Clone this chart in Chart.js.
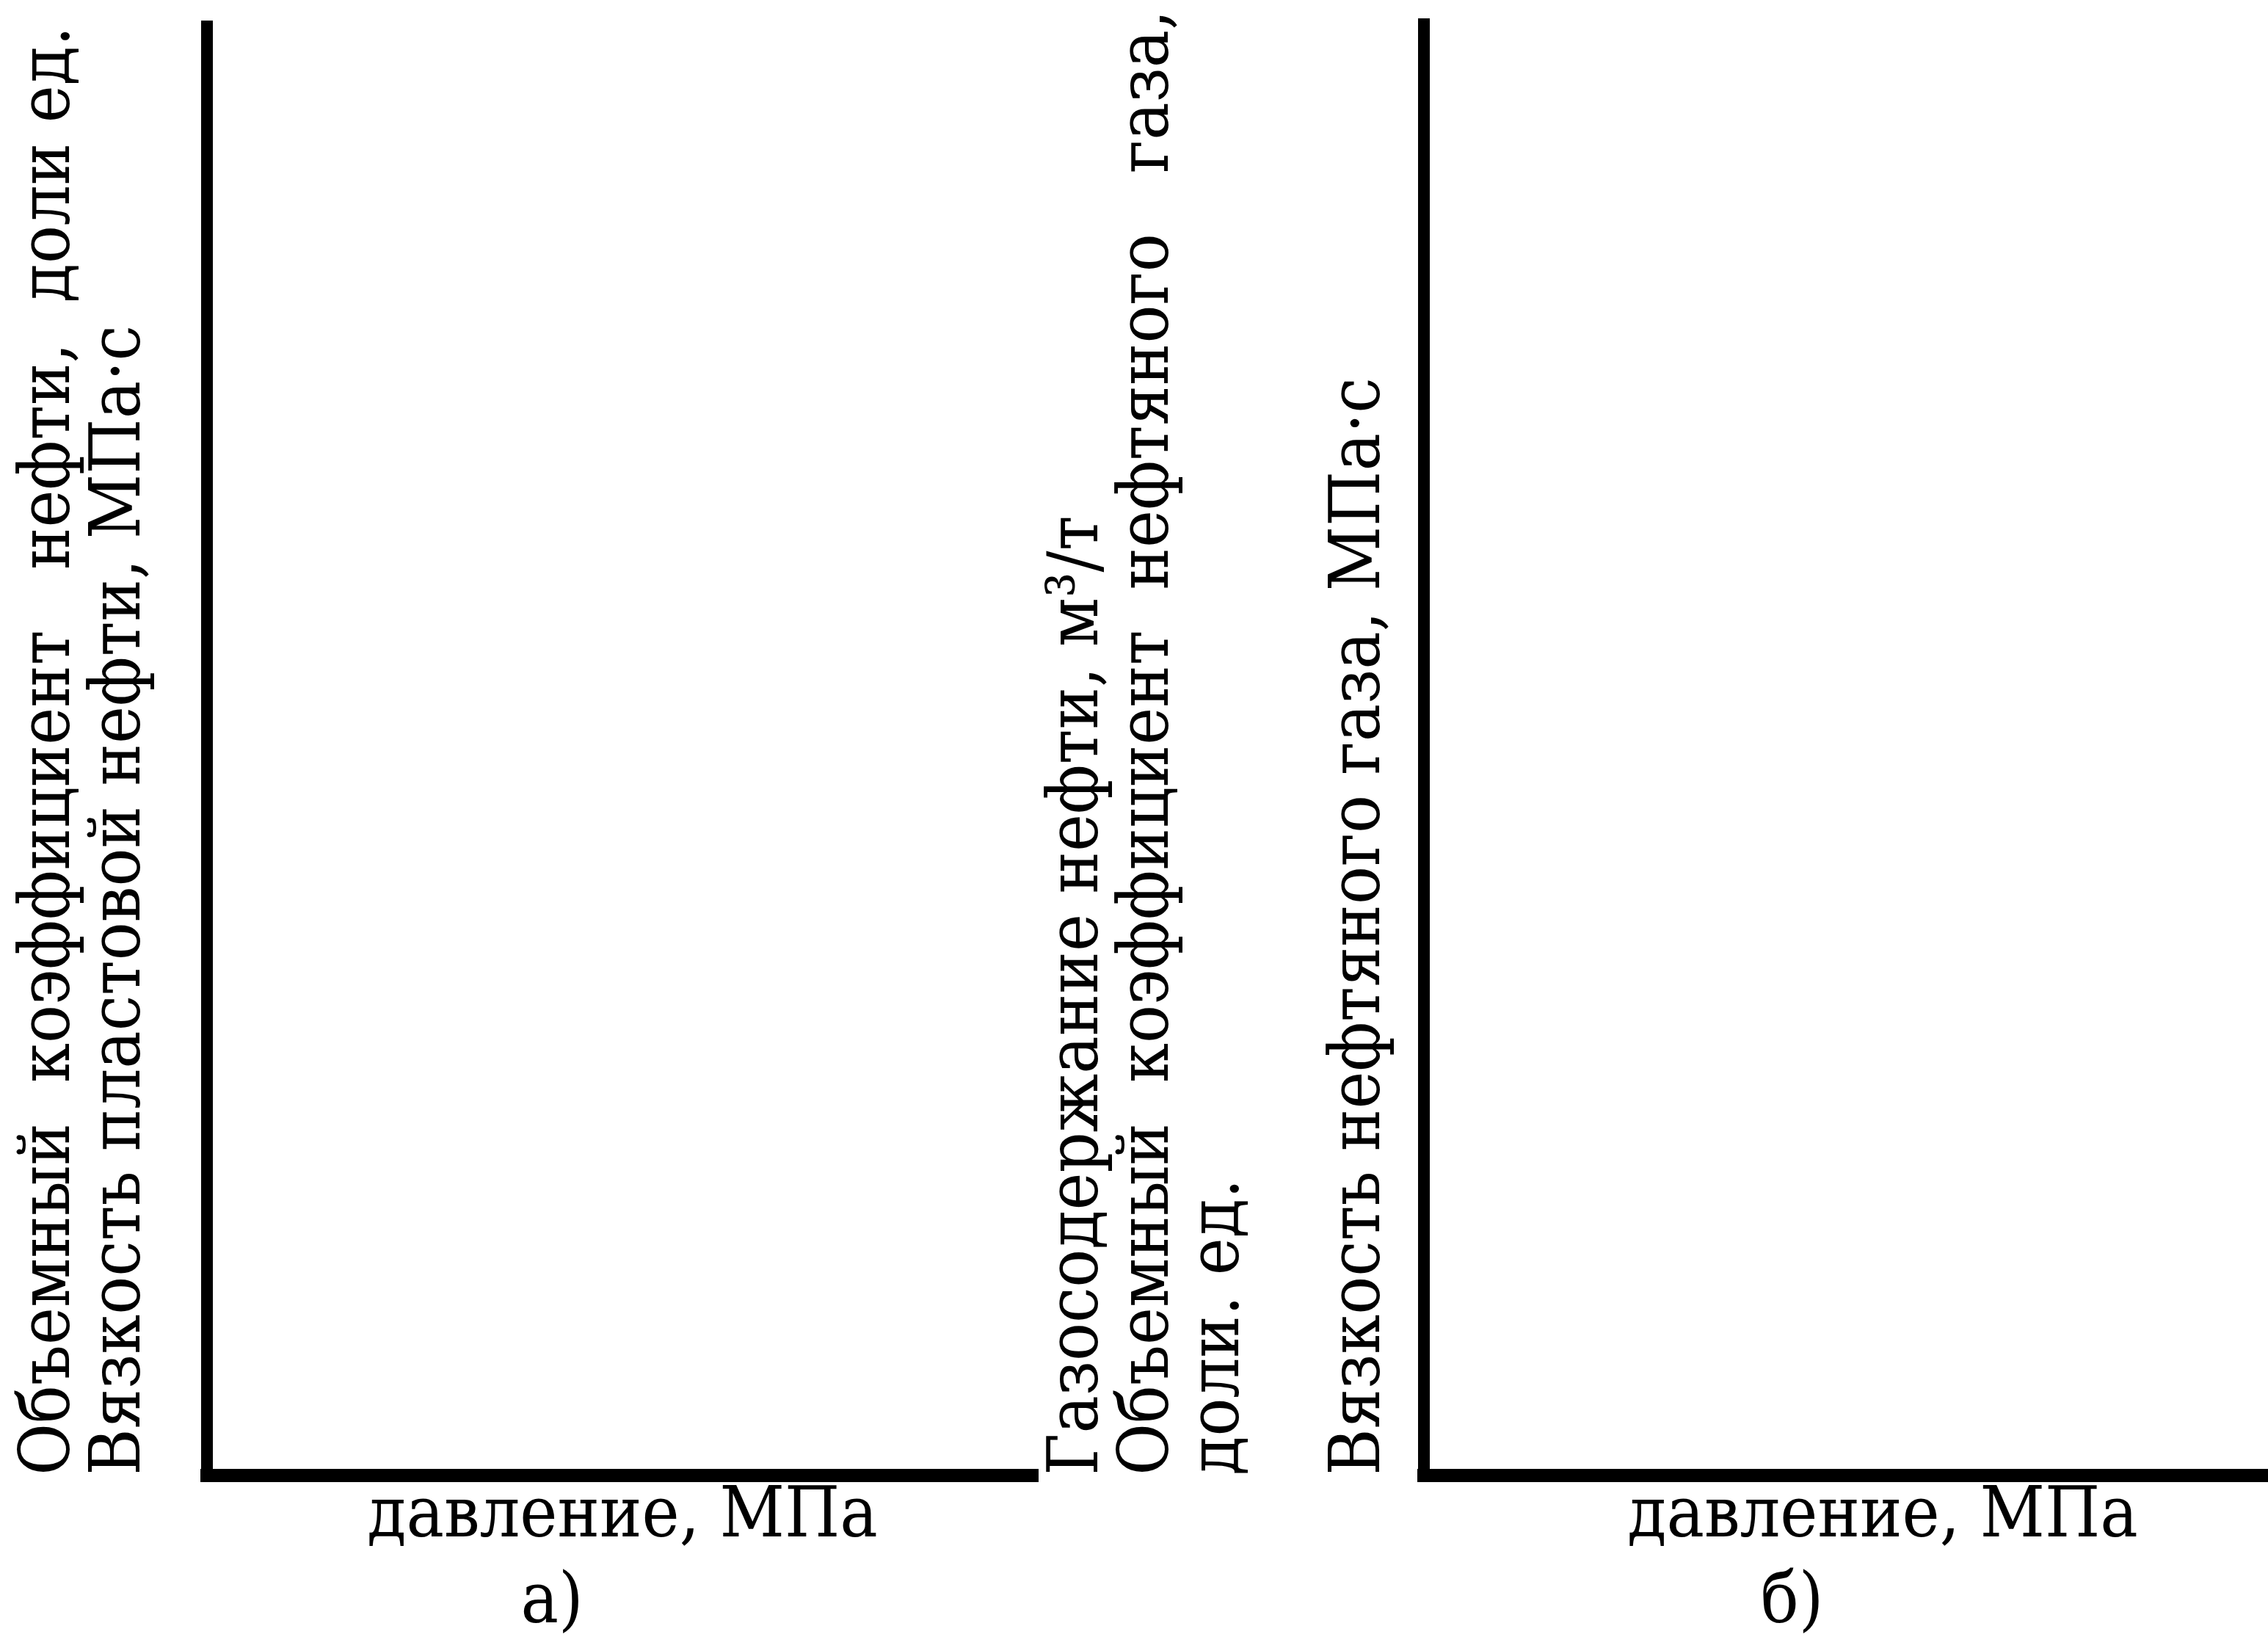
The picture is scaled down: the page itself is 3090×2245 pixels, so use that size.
<!DOCTYPE html>
<html lang="ru">
<head>
  <meta charset="UTF-8">
  <title>Свойства нефти и газа в зависимости от давления</title>
  <style>
    html, body { margin: 0; padding: 0; background: #fff; overflow: hidden; }
    .panel { position: absolute; top: 0; height: 2245px; }
    #panelA { left: 0; width: 1420px; }
    #panelB { left: 1400px; width: 1800px; }
  </style>
  <script src="https://cdn.jsdelivr.net/npm/chart.js"></script>
</head>
<body>
  <div class="panel" id="panelA"><canvas id="chartA"></canvas></div>
  <div class="panel" id="panelB"><canvas id="chartB"></canvas></div>

  <script>
    // В оригинале кривые не нанесены: только оси и подписи
    const pressureA = [];
    const oilValuesA = [];
    const pressureB = [];
    const gasValuesB = [];

    // подписи осей (слова разогнаны пробелами, как в наборе)
    const yTitleA = [
      'Объемный  коэффициент   нефти,  доли ед.',
      'Вязкость пластовой нефти, МПа·с'
    ];
    const xTitleA = ['давление, МПа', 'а)       '];

    const yTitleB = [
      'Газосодержание нефти, м³/т',
      'Объемный  коэффициент  нефтяного   газа,',
      'доли. ед.',
      '',
      'Вязкость нефтяного газа, МПа·с'
    ];
    const xTitleB = ['давление, МПа', 'б)         '];

    const serif = "'DejaVu Serif Condensed', 'DejaVu Serif', 'Liberation Serif', serif";

    function makeChart(id, xs, ys, yTitle, xTitle, layoutPad, yTitlePad) {
      const points = xs.map((x, i) => ({ x: x, y: ys[i] }));
      return new Chart(document.getElementById(id), {
        type: 'line',
        data: { datasets: [{ data: points, borderColor: '#000', borderWidth: 6, pointRadius: 0 }] },
        options: {
          responsive: true,
          maintainAspectRatio: false,
          animation: false,
          events: [],
          layout: { padding: layoutPad },
          plugins: { legend: { display: false }, tooltip: { enabled: false } },
          scales: {
            x: {
              type: 'linear', min: 0, max: 1, display: true,
              ticks: { display: false },
              grid: { display: false, drawTicks: false },
              border: { display: true, color: '#000', width: 18 },
              title: {
                display: true, text: xTitle, color: '#000',
                font: { family: serif, size: 96, lineHeight: 1.22 },
                padding: { top: 0, bottom: 0 }
              }
            },
            y: {
              type: 'linear', min: 0, max: 1, display: true,
              ticks: { display: false },
              grid: { display: false, drawTicks: false, lineWidth: 16 },
              border: { display: true, color: '#000', width: 16 },
              title: {
                display: true, text: yTitle, color: '#000', align: 'start',
                font: { family: serif, size: 96, lineHeight: 1 },
                padding: yTitlePad
              }
            }
          }
        }
      });
    }

    makeChart('chartA', pressureA, oilValuesA, yTitleA, xTitleA,
      { left: 0, top: 36, right: 6, bottom: 1 }, { top: 21, bottom: 69 });
    makeChart('chartB', pressureB, gasValuesB, yTitleB, xTitleB,
      { left: 0, top: 33, right: 10, bottom: 1 }, { top: 22, bottom: 38 });
  </script>
</body>
</html>
